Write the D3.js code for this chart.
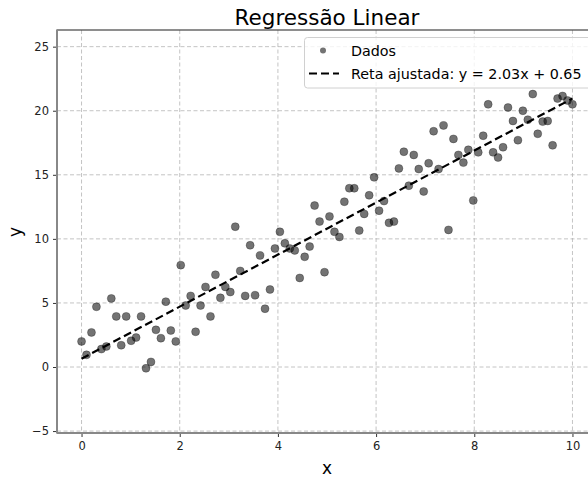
<!DOCTYPE html>
<html><head><meta charset="utf-8">
<script src="https://cdn.jsdelivr.net/npm/d3@7"></script>
<style>body{margin:0;background:#fff}svg{display:block}text{font-family:"DejaVu Sans",sans-serif}</style>
</head><body><svg id="c" width="588" height="477"></svg>
<script>
const yValues = [2.0,0.95,2.7,4.7,1.4,1.6,5.35,3.95,1.7,3.95,
2.05,2.3,3.95,-0.1,0.4,2.9,2.25,5.1,2.85,2.0,
7.95,4.8,5.55,2.75,4.8,6.25,3.95,7.2,5.4,6.25,
5.85,10.95,7.5,5.55,9.5,5.6,8.7,4.55,6.05,9.25,
10.55,9.65,9.25,9.1,6.95,8.6,9.4,12.6,11.35,7.4,
11.75,10.55,10.15,12.9,13.95,13.95,10.65,11.95,13.4,14.8,
12.2,12.95,11.25,11.35,15.5,16.8,14.15,16.55,15.45,13.7,
15.9,18.4,15.45,18.85,10.7,17.8,16.55,15.95,16.95,13.0,
16.75,18.05,20.5,16.75,16.35,17.15,20.25,19.2,17.7,20.0,
19.3,21.3,18.2,19.15,19.2,17.3,20.95,21.15,20.8,20.5];
const xValues = yValues.map((d,i)=> i*10/(yValues.length-1));
const slope = 2.03, intercept = 0.65;
const lineX = [0, 10];
const xTicks = [0,2,4,6,8,10];
const yTicks = [-5,0,5,10,15,20,25];
const title = "Regressão Linear";
const legendLabels = ["Dados", "Reta ajustada: y = 2.03x + 0.65"];

const svg = d3.select("#c");
const L=57, R=597, T=30, B=433;
const x = d3.scaleLinear().domain([-0.5,10.5]).range([L,R]);
const y = d3.scaleLinear().domain([-5.15,26.3]).range([B,T]);

svg.append("rect").attr("width",588).attr("height",477).attr("fill","#fff");

// grid
const grid = svg.append("g");
grid.selectAll(".gx").data(xTicks).join("line")
  .attr("x1",d=>x(d)).attr("x2",d=>x(d)).attr("y1",T).attr("y2",B)
  .attr("stroke","#b0b0b0").attr("stroke-opacity",0.75).attr("stroke-width",1).attr("stroke-dasharray","4,2.5");
grid.selectAll(".gy").data(yTicks).join("line")
  .attr("x1",L).attr("x2",R).attr("y1",d=>y(d)).attr("y2",d=>y(d))
  .attr("stroke","#b0b0b0").attr("stroke-opacity",0.75).attr("stroke-width",1).attr("stroke-dasharray","4,2.5");

// points
svg.append("g").selectAll("circle").data(yValues).join("circle")
  .attr("cx",(d,i)=>x(xValues[i])).attr("cy",d=>y(d)).attr("r",4)
  .attr("fill","#000").attr("fill-opacity",0.55)
  .attr("stroke","#000").attr("stroke-opacity",0.35).attr("stroke-width",0.8);

// fitted line
svg.append("path").datum(lineX)
  .attr("d", d3.line().x(d=>x(d)).y(d=>y(slope*d+intercept)))
  .attr("fill","none").attr("stroke","#000").attr("stroke-width",2.2).attr("stroke-dasharray","8,4");

// axes
const xAxis = svg.append("g").attr("transform",`translate(0,${B})`)
  .call(d3.axisBottom(x).tickValues(xTicks).tickSize(4).tickPadding(5).tickFormat(d3.format("d")));
const yAxis = svg.append("g").attr("transform",`translate(${L},0)`)
  .call(d3.axisLeft(y).tickValues(yTicks).tickSize(4).tickPadding(4).tickFormat(d=> d<0 ? "\u2212"+Math.abs(d) : d));
[xAxis,yAxis].forEach(a=>{
  a.select(".domain").remove();
  a.selectAll("line").attr("stroke","#333");
  a.selectAll("text").attr("font-family","DejaVu Sans").attr("font-size",11.5).attr("fill","#222");
});
// spines
svg.append("rect").attr("x",L).attr("y",T).attr("width",R-L).attr("height",B-T)
  .attr("fill","none").attr("stroke","#444").attr("stroke-width",1.2);
svg.append("line").attr("x1",L).attr("x2",L).attr("y1",T).attr("y2",B).attr("stroke","#888").attr("stroke-width",2);
svg.append("line").attr("x1",L).attr("x2",R).attr("y1",B).attr("y2",B).attr("stroke","#888").attr("stroke-width",2);

// title and labels
svg.append("text").attr("x",(L+R)/2).attr("y",25).attr("text-anchor","middle")
  .attr("font-size",21.5).attr("fill","#000").text(title);
svg.append("text").attr("x",(L+R)/2).attr("y",474).attr("text-anchor","middle")
  .attr("font-size",17).attr("fill","#000").text("x");
svg.append("text").attr("transform","translate(21,232) rotate(-90)").attr("text-anchor","middle")
  .attr("font-size",17).attr("fill","#000").text("y");

// legend
const lg = svg.append("g");
lg.append("rect").attr("x",304.5).attr("y",37.5).attr("width",300).attr("height",50.5).attr("rx",3)
  .attr("fill","#fff").attr("fill-opacity",0.8).attr("stroke","#d0d0d0").attr("stroke-width",1);
lg.append("circle").attr("cx",323).attr("cy",50.5).attr("r",3).attr("fill","#000").attr("fill-opacity",0.55);
lg.append("line").attr("x1",309).attr("x2",339).attr("y1",73.5).attr("y2",73.5)
  .attr("stroke","#000").attr("stroke-width",2.2).attr("stroke-dasharray","8,4");
lg.selectAll("text.l").data(legendLabels).join("text")
  .attr("x",351).attr("y",(d,i)=> i===0 ? 55.5 : 78.5).attr("font-size",14.3).attr("fill","#000").text(d=>d);
</script></body></html>
